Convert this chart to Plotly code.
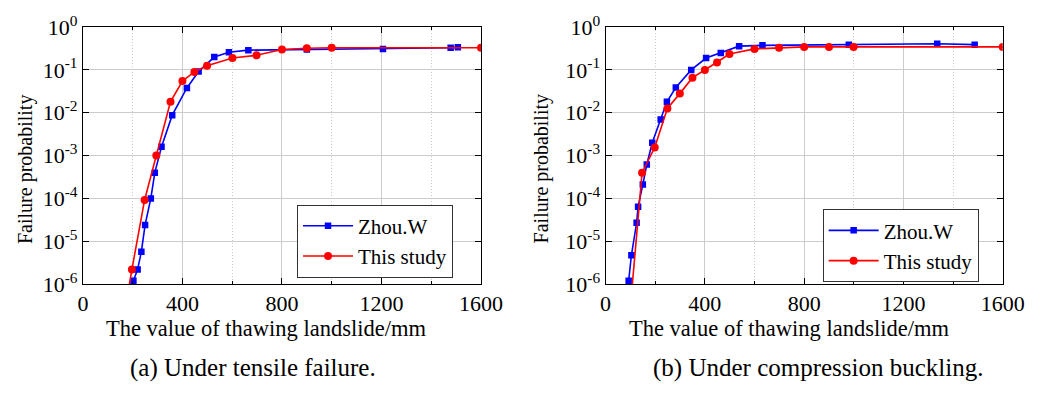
import plotly.graph_objects as go

# (a) Under tensile failure
a_zhou_x = [203, 220, 235, 250, 273, 289, 316, 359, 418, 465, 528, 587, 665, 900, 1206, 1478, 1507]
a_zhou_y = [1.2e-6, 2.2e-6, 5.7e-6, 2.4e-5, 1.0e-4, 4.0e-4, 1.6e-3, 8.8e-3, 0.038, 0.092, 0.20, 0.26, 0.29, 0.30, 0.31, 0.33, 0.34]
a_study_x = [160, 197, 248, 295, 352, 400, 448, 499, 601, 698, 800, 900, 1000, 1600]
a_study_y = [1.2e-7, 2.2e-6, 9.2e-5, 1.0e-3, 0.018, 0.055, 0.09, 0.125, 0.19, 0.22, 0.30, 0.32, 0.33, 0.33]

# (b) Under compression buckling
b_zhou_x = [93, 104, 125, 131, 150, 166, 188, 222, 247, 283, 345, 405, 464, 538, 632, 980, 1336, 1487]
b_zhou_y = [1.2e-6, 4.7e-6, 2.7e-5, 6.4e-5, 2.1e-4, 6.2e-4, 2.0e-3, 7.0e-3, 0.018, 0.039, 0.10, 0.19, 0.25, 0.36, 0.375, 0.39, 0.41, 0.39]
b_study_x = [100, 147, 198, 249, 299, 350, 400, 449, 499, 600, 699, 800, 900, 999, 1600]
b_study_y = [3e-7, 4.0e-4, 1.55e-3, 0.0126, 0.028, 0.066, 0.10, 0.15, 0.235, 0.31, 0.33, 0.345, 0.345, 0.345, 0.345]

series_names = ["Zhou.W", "This study"]
captions = ["(a) Under tensile failure.", "(b) Under compression buckling."]
x_title = "The value of thawing landslide/mm"
y_title = "Failure probability"
y_tickvals = [1e-6, 1e-5, 1e-4, 1e-3, 1e-2, 1e-1, 1]
y_ticktext = ["10<sup>-6</sup>", "10<sup>-5</sup>", "10<sup>-4</sup>", "10<sup>-3</sup>",
              "10<sup>-2</sup>", "10<sup>-1</sup>", "10<sup>0</sup>"]
x_tickvals = [0, 400, 800, 1200, 1600]

FONT = "Liberation Serif, Times New Roman, serif"
W, H = 1051, 400
BLUE = "#0000ff"
RED = "#ff0000"

fig = go.Figure()

panels = [
    (a_zhou_x, a_zhou_y, a_study_x, a_study_y, "x", "y", "legend"),
    (b_zhou_x, b_zhou_y, b_study_x, b_study_y, "x2", "y2", "legend2"),
]
for zx, zy, sx, sy, xa, ya, lg in panels:
    fig.add_trace(go.Scatter(x=zx, y=zy, mode="lines+markers", name=series_names[0],
                             xaxis=xa, yaxis=ya, legend=lg,
                             line=dict(color=BLUE, width=1.6),
                             marker=dict(symbol="square", size=6.5, color=BLUE)))
    fig.add_trace(go.Scatter(x=sx, y=sy, mode="lines+markers", name=series_names[1],
                             xaxis=xa, yaxis=ya, legend=lg,
                             line=dict(color=RED, width=1.6),
                             marker=dict(symbol="circle", size=8, color=RED)))

def px_x(p):
    return p / W

def px_y(p):
    return (H - p) / H

x_domains = [(px_x(79), px_x(488)), (px_x(616), px_x(1024))]
y_domain = (px_y(289), px_y(12))

axis_common = dict(
    showline=True, linecolor="black", linewidth=1, mirror="allticks",
    ticks="inside", tickcolor="black", ticklen=6,
    showgrid=True, gridcolor="#cccccc", gridwidth=1,
    zeroline=False,
    tickfont=dict(family=FONT, size=22, color="black"),
)

for i, (d0, d1) in enumerate(x_domains):
    sfx = "" if i == 0 else str(i + 1)
    fig.update_layout(**{
        "xaxis" + sfx: dict(
            domain=[d0, d1], range=[0, 1600], tickvals=x_tickvals,
            anchor="y" + sfx, ticklabeloverflow="allow",
            minor=dict(dtick=200, tick0=0, ticks="inside", ticklen=3, tickcolor="black",
                       showgrid=True, gridcolor="#cccccc", griddash="1px,2px", gridwidth=1),
            **axis_common),
        "yaxis" + sfx: dict(
            domain=list(y_domain), type="log", range=[-6, 0],
            tickvals=y_tickvals, ticktext=y_ticktext,
            anchor="x" + sfx, ticklabeloverflow="allow",
            **axis_common),
    })

annotations = []
title_x_px = [267, 804]
ytitle_x_px = [19.5, 550]
for i in range(2):
    annotations.append(dict(text=x_title, x=px_x(title_x_px[i]), y=px_y(337), xref="paper", yref="paper",
                            showarrow=False, xanchor="center", yanchor="middle",
                            font=dict(family=FONT, size=22.5, color="black")))
    annotations.append(dict(text=y_title, x=px_x(ytitle_x_px[i]), y=px_y(165),
                            xref="paper", yref="paper", textangle=-90,
                            showarrow=False, xanchor="center", yanchor="middle",
                            font=dict(family=FONT, size=20, color="black")))
cap_x = [px_x(254), px_x(834)]
for cx, cap in zip(cap_x, captions):
    annotations.append(dict(text=cap, x=cx, y=px_y(380), xref="paper", yref="paper",
                            showarrow=False, xanchor="center", yanchor="middle",
                            font=dict(family=FONT, size=25, color="black")))

legend_common = dict(
    bgcolor="white", bordercolor="#333333", borderwidth=1,
    font=dict(family=FONT, size=21, color="black"),
    xanchor="left", yanchor="bottom", tracegroupgap=0,
    itemwidth=50,
)
fig.update_layout(
    width=W, height=H,
    margin=dict(l=0, r=0, t=0, b=0),
    paper_bgcolor="white", plot_bgcolor="white",
    legend=dict(x=px_x(299), y=px_y(282), **legend_common),
    legend2=dict(x=px_x(839), y=px_y(287), **legend_common),
    annotations=annotations,
    showlegend=True,
)

fig.write_html("out.html")
